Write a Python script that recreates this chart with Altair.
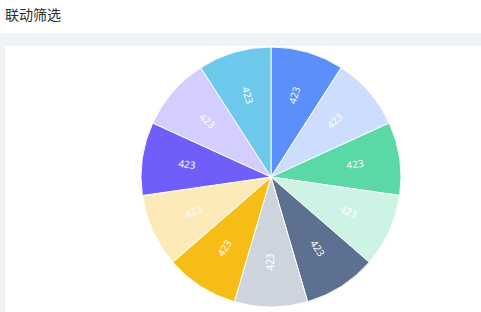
import altair as alt
import pandas as pd

categories = ["类别1", "类别2", "类别3", "类别4", "类别5", "类别6",
              "类别7", "类别8", "类别9", "类别10", "类别11"]
values = [423, 423, 423, 423, 423, 423, 423, 423, 423, 423, 423]
colors = ["#5B8FF9", "#CDDDFD", "#5AD8A6", "#CDF3E4", "#5D7092", "#CED4DE",
          "#F6BD16", "#FCEBB9", "#6F5EF9", "#D3CEFD", "#6DC8EC"]
title_text = "联动筛选"

df = pd.DataFrame({"category": categories, "value": values,
                   "idx": list(range(len(categories)))})

W, H = 481, 312
CX, CY, R = 271, 177, 130
GRAY = "#F0F3F6"

one = alt.Data(values=[{}])

band = alt.Chart(one).mark_rect(color=GRAY).encode(
    x=alt.value(0), x2=alt.value(W), y=alt.value(33), y2=alt.value(46))
strip = alt.Chart(one).mark_rect(color=GRAY).encode(
    x=alt.value(0), x2=alt.value(5), y=alt.value(46), y2=alt.value(H))
header = alt.Chart(one).mark_text(
    text=title_text, align="left", baseline="middle", fontSize=14,
    font="Noto Sans CJK SC", color="#2b2b2b").encode(
    x=alt.value(5), y=alt.value(16))

base = alt.Chart(df).encode(
    theta=alt.Theta("value:Q", stack=True),
    order=alt.Order("idx:Q"),
    x=alt.value(CX), y=alt.value(CY),
)

arcs = base.mark_arc(outerRadius=R, stroke="white", strokeWidth=1).encode(
    color=alt.Color("category:N", sort=categories,
                    scale=alt.Scale(domain=categories, range=colors),
                    legend=None)
)

labels = base.transform_window(
    cum="sum(value)", sort=[alt.SortField("idx")], frame=[None, 0]
).transform_joinaggregate(
    total="sum(value)"
).transform_calculate(
    mid="(datum.cum - datum.value/2) / datum.total * 360"
).transform_calculate(
    ang="datum.mid < 180 ? (datum.mid - 90 + 360) % 360 : (datum.mid - 270 + 360) % 360"
).mark_text(radius=85, fontSize=10, color="white", font="Noto Sans",
            align="center", baseline="middle").encode(
    text=alt.Text("value:Q"),
    angle=alt.Angle("ang:Q", scale=None),
)

chart = alt.layer(band, strip, header, arcs, labels).properties(
    width=W, height=H, padding=0, autosize="none", background="white"
).configure_view(stroke=None)

chart.save("out.html", embed_options={"renderer": "svg", "actions": False})
